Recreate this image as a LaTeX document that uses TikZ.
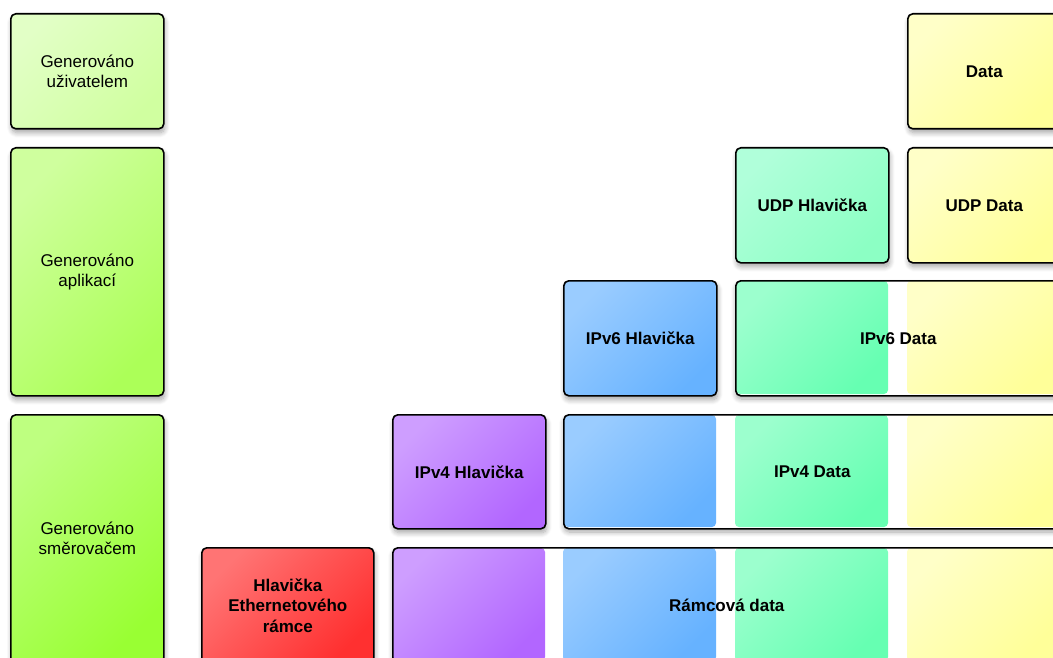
\documentclass[tikz,border=0pt]{standalone}
\usepackage{fontspec}
\setmainfont{Liberation Sans}
\usetikzlibrary{shadows.blur}
\definecolor{labAa}{HTML}{E2FFC6}\definecolor{labAb}{HTML}{D0FFA0}
\definecolor{labBa}{HTML}{CFFF9E}\definecolor{labBb}{HTML}{ACFF58}
\definecolor{labCa}{HTML}{BEFF80}\definecolor{labCb}{HTML}{99FF33}
\definecolor{yelA}{HTML}{FFFFC8}\definecolor{yelB}{HTML}{FFFF99}
\definecolor{mintA}{HTML}{B0FFDA}\definecolor{mintB}{HTML}{8CFFC4}
\definecolor{grnA}{HTML}{9CFFCE}\definecolor{grnB}{HTML}{66FFB2}
\definecolor{bluA}{HTML}{9ACCFF}\definecolor{bluB}{HTML}{66B2FF}
\definecolor{purA}{HTML}{CE9EFF}\definecolor{purB}{HTML}{B266FF}
\definecolor{redA}{HTML}{FF7474}\definecolor{redB}{HTML}{FF3030}
\tikzset{
  shad/.style={blur shadow={shadow xshift=1pt, shadow yshift=-4pt, shadow blur steps=8, shadow opacity=35, shadow blur radius=5pt}},
  grad/.style 2 args={top color=#1, bottom color=#2, shading angle=45},
  box/.style={draw=black, line width=1.6pt, rounded corners=5pt, anchor=north west,
    inner sep=2pt, align=center, font=\bfseries\fontsize{17}{20.5}\selectfont, shad},
  lab/.style={box, font=\fontsize{17}{20}\selectfont},
  framebg/.style={fill=white, rounded corners=5pt, shad},
  frame/.style={draw=black, line width=1.6pt, rounded corners=5pt, anchor=north west,
    inner sep=0pt, font=\bfseries\fontsize{17}{20.5}\selectfont},
  part/.style={rounded corners=4pt},
}
\begin{document}
\begin{tikzpicture}[x=1pt,y=-1pt]
\useasboundingbox (0,0) rectangle (1053,658);
\clip (0,0) rectangle (1053,658);
% left labels
\node[lab, grad={labAa}{labAb}, minimum width=153pt, minimum height=115pt] (genU) at (10,13) {Generováno\\uživatelem};
\node[lab, grad={labBa}{labBb}, minimum width=153pt, minimum height=248pt] (genA) at (10,147) {Generováno\\aplikací};
\node[lab, grad={labCa}{labCb}, minimum width=153pt, minimum height=248pt] (genR) at (10,414) {Generováno\\směrovačem};
% row 1
\node[box, grad={yelA}{yelB}, minimum width=153pt, minimum height=115pt] (data) at (907,13) {Data};
% row 2
\node[box, grad={mintA}{mintB}, minimum width=153pt, minimum height=115pt] (udph) at (735,147) {UDP Hlavička};
\node[box, grad={yelA}{yelB}, minimum width=153pt, minimum height=115pt] (udpd) at (907,147) {UDP Data};
% row 3
\node[box, grad={bluA}{bluB}, minimum width=153pt, minimum height=115pt] (ip6h) at (563,280) {IPv6 Hlavička};
\path[framebg] (735,280) rectangle (1060,395);
\shade[part, grad={grnA}{grnB}] (736,281) rectangle (888,394);
\shade[part, grad={yelA}{yelB}] (907,281) rectangle (1059,394);
\node[frame, minimum width=325pt, minimum height=115pt] (ip6d) at (735,280) {IPv6 Data};
% row 4
\node[box, grad={purA}{purB}, minimum width=153pt, minimum height=114pt] (ip4h) at (392,414) {IPv4 Hlavička};
\path[framebg] (563,414) rectangle (1060,528);
\shade[part, grad={bluA}{bluB}] (564,415) rectangle (716,527);
\shade[part, grad={grnA}{grnB}] (735,415) rectangle (888,527);
\shade[part, grad={yelA}{yelB}] (907,415) rectangle (1059,527);
\node[frame, minimum width=497pt, minimum height=114pt] (ip4d) at (563,414) {IPv4 Data};
% row 5
\node[box, grad={redA}{redB}, minimum width=172pt, minimum height=115pt] (ethh) at (201,547) {Hlavička\\Ethernetového\\rámce};
\path[framebg] (392,547) rectangle (1060,662);
\shade[part, grad={purA}{purB}] (393,548) rectangle (545,661);
\shade[part, grad={bluA}{bluB}] (563,548) rectangle (716,661);
\shade[part, grad={grnA}{grnB}] (735,548) rectangle (888,661);
\shade[part, grad={yelA}{yelB}] (907,548) rectangle (1059,661);
\node[frame, minimum width=668pt, minimum height=115pt] (ethd) at (392,547) {Rámcová data};
\end{tikzpicture}
\end{document}
